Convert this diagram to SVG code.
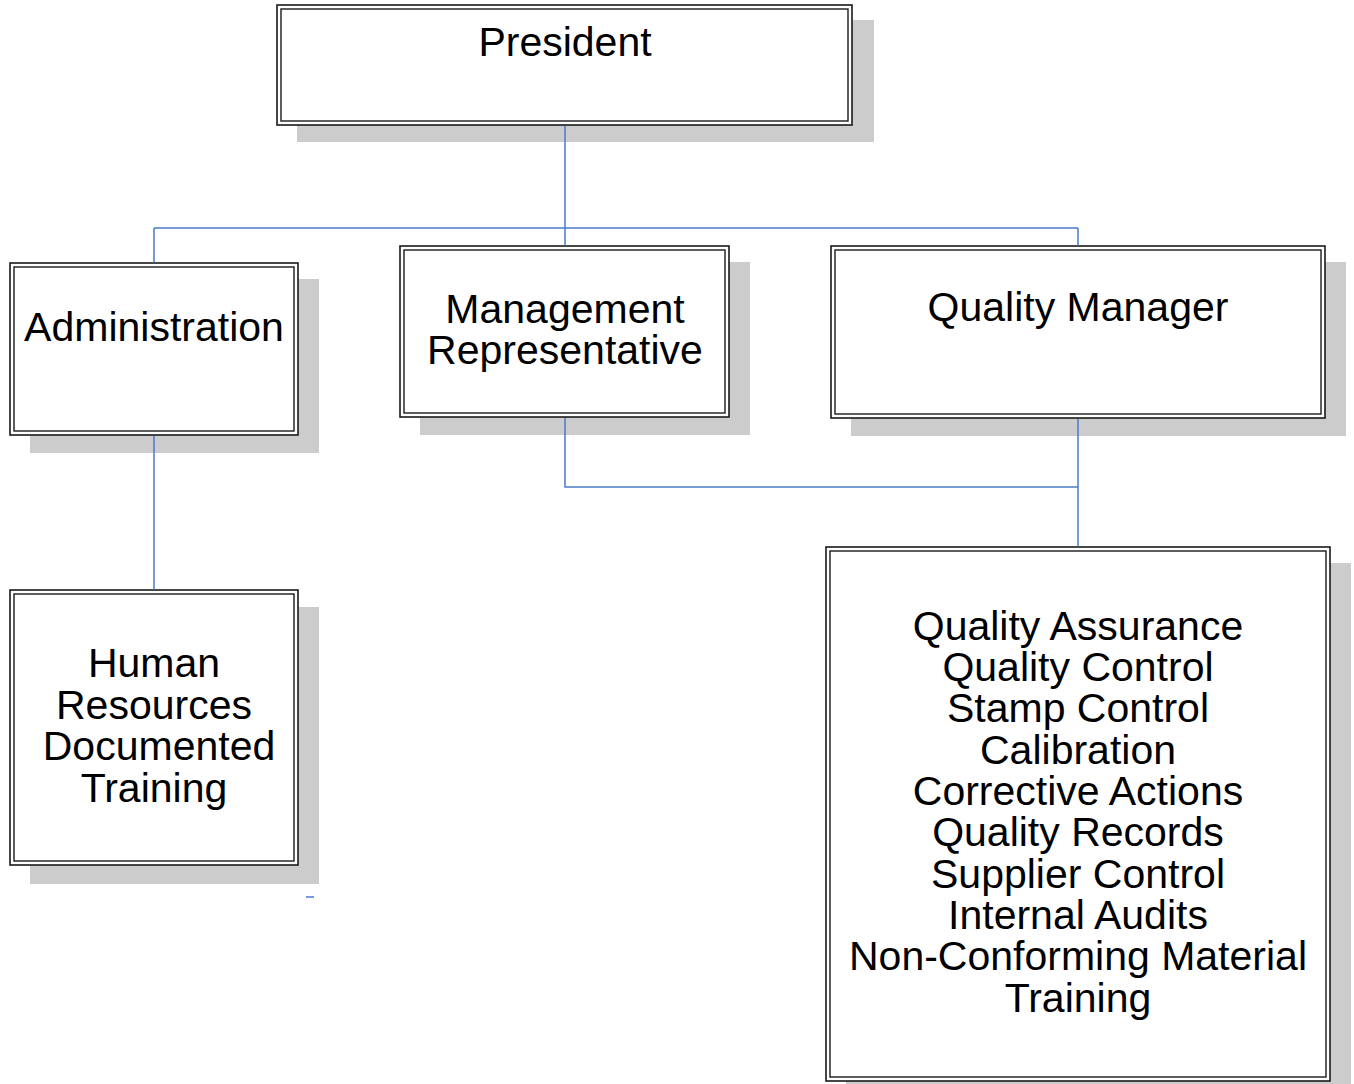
<svg xmlns="http://www.w3.org/2000/svg" width="1354" height="1084" viewBox="0 0 1354 1084">
<style>
.shadow{fill:#cccccc;stroke:none}
.outer{fill:#ffffff;stroke:#1a1a1a;stroke-width:1.6}
.inner{fill:none;stroke:#1a1a1a;stroke-width:1.4}
.lbl{font-family:"Liberation Sans",Arial,sans-serif;font-size:41px;fill:#000;text-anchor:middle}
.conn{fill:none;stroke:#4a7ccc;stroke-width:1.5}
</style>
<rect width="1354" height="1084" fill="#ffffff"/>
<g id="president">
<rect class="shadow" x="297" y="20" width="577" height="122"/>
<rect class="outer" x="277" y="5" width="575" height="120"/>
<rect class="inner" x="281" y="9" width="567" height="112"/>
<text class="lbl" x="565" y="56">President</text>
</g>
<g id="administration">
<rect class="shadow" x="30" y="279" width="289" height="174"/>
<rect class="outer" x="10" y="263" width="288" height="172"/>
<rect class="inner" x="14" y="267" width="280" height="164"/>
<text class="lbl" x="154" y="341">Administration</text>
</g>
<g id="management-representative">
<rect class="shadow" x="420" y="262" width="330" height="173"/>
<rect class="outer" x="400" y="246" width="329" height="171"/>
<rect class="inner" x="404" y="250" width="321" height="163"/>
<text class="lbl" x="565" y="323">Management</text>
<text class="lbl" x="565" y="364">Representative</text>
</g>
<g id="quality-manager">
<rect class="shadow" x="851" y="262" width="495" height="174"/>
<rect class="outer" x="831" y="246" width="494" height="172"/>
<rect class="inner" x="835" y="250" width="486" height="164"/>
<text class="lbl" x="1078" y="321">Quality Manager</text>
</g>
<g id="human-resources">
<rect class="shadow" x="30" y="607" width="289" height="277"/>
<rect class="outer" x="10" y="590" width="288" height="275"/>
<rect class="inner" x="14" y="594" width="280" height="267"/>
<text class="lbl" x="154" y="677">Human</text>
<text class="lbl" x="154" y="719">Resources</text>
<text class="lbl" x="159" y="760">Documented</text>
<text class="lbl" x="154" y="802">Training</text>
</g>
<g id="quality-functions">
<rect class="shadow" x="846" y="563" width="505" height="525"/>
<rect class="outer" x="826" y="547" width="504" height="534"/>
<rect class="inner" x="830" y="551" width="496" height="526"/>
<text class="lbl" x="1078" y="640">Quality Assurance</text>
<text class="lbl" x="1078" y="681">Quality Control</text>
<text class="lbl" x="1078" y="722">Stamp Control</text>
<text class="lbl" x="1078" y="764">Calibration</text>
<text class="lbl" x="1078" y="805">Corrective Actions</text>
<text class="lbl" x="1078" y="846">Quality Records</text>
<text class="lbl" x="1078" y="888">Supplier Control</text>
<text class="lbl" x="1078" y="929">Internal Audits</text>
<text class="lbl" x="1078" y="970">Non-Conforming Material</text>
<text class="lbl" x="1078" y="1012">Training</text>
</g>
<g id="connectors">
<path class="conn" d="M565,126 V228 M154,228 H1078 M154,228 V262.5 M565,228 V245.5 M1078,228 V245.5"/>
<path class="conn" d="M154,436 V589.5"/>
<path class="conn" d="M565,418 V487 H1078 M1078,419 V546.5"/>
<path class="conn" d="M306,897 H314"/>
</g>
</svg>
